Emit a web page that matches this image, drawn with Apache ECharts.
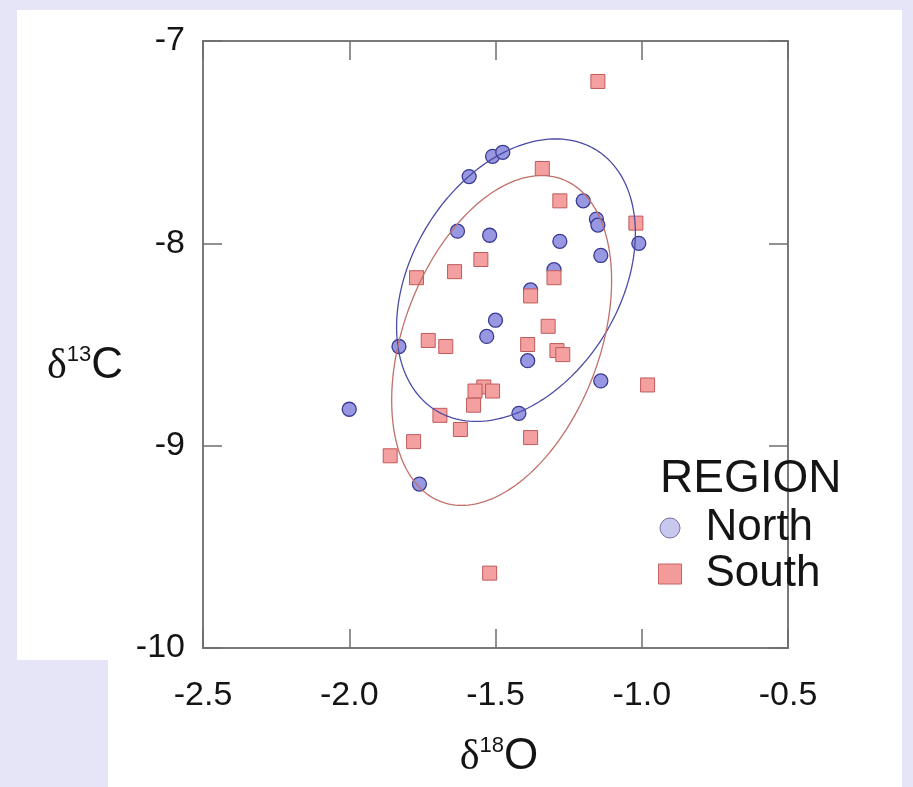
<!DOCTYPE html>
<html>
<head>
<meta charset="utf-8">
<script src="https://cdn.jsdelivr.net/npm/echarts@6/dist/echarts.min.js"></script>
<style>
  html, body { margin: 0; padding: 0; width: 913px; height: 787px; overflow: hidden; background: #e5e5f7; }
  #panel { position: absolute; left: 17px; top: 10px; width: 885px; height: 777px; background: #ffffff; }
  #corner { position: absolute; left: 0; top: 660px; width: 108px; height: 127px; background: #e5e5f7; }
  #chart { position: absolute; left: 0; top: 0; width: 913px; height: 787px; }
</style>
</head>
<body>
<div id="panel"></div>
<div id="corner"></div>
<div id="chart"></div>
<script>
// ---- data ----
const northO18 = [-2.00, -1.83, -1.76, -1.59, -1.51, -1.475, -1.63, -1.52, -1.50, -1.53,
                  -1.28, -1.30, -1.38, -1.39, -1.42, -1.20, -1.155, -1.15, -1.14, -1.01, -1.14];
const northC13 = [-8.82, -8.51, -9.19, -7.67, -7.57, -7.55, -7.94, -7.96, -8.38, -8.46,
                  -7.99, -8.13, -8.23, -8.58, -8.84, -7.79, -7.88, -7.91, -8.06, -8.00, -8.68];

const southO18 = [-1.15, -1.34, -1.28, -1.02, -1.77, -1.64, -1.55, -1.30, -1.38, -1.32,
                  -1.73, -1.67, -1.39, -1.29, -1.27, -1.54, -1.57, -1.51, -1.575, -0.98,
                  -1.69, -1.62, -1.78, -1.38, -1.86, -1.52];
const southC13 = [-7.20, -7.63, -7.79, -7.90, -8.17, -8.14, -8.08, -8.17, -8.26, -8.41,
                  -8.48, -8.51, -8.50, -8.53, -8.55, -8.71, -8.73, -8.73, -8.80, -8.70,
                  -8.85, -8.92, -8.98, -8.96, -9.05, -9.63];

// ellipse: centre and two conjugate semi-axes (data units)
const northEllipseCenter = [-1.430, -8.182];
const northEllipseAxisU  = [0.1356, 0.6981];
const northEllipseAxisV  = [0.3850, 0.0];
const southEllipseCenter = [-1.479, -8.480];
const southEllipseAxisU  = [0.1367, 0.8150];
const southEllipseAxisV  = [0.3502, 0.0];

const xTickValues = [-2.5, -2.0, -1.5, -1.0, -0.5];
const yTickValues = [-10, -9, -8, -7];
const legendTitle = 'REGION';
const groupNames = ['North', 'South'];

// ---- build ----
const FONT = "'Liberation Sans', Arial, Helvetica, sans-serif";
const TXT = '#141414';
const zip = (a, b) => a.map((v, i) => [v, b[i]]);

function ellipseSeries(center, u, v, color) {
  return {
    type: 'custom',
    silent: true,
    z: 5,
    clip: true,
    data: [[center[0], center[1], u[0], u[1], v[0], v[1]]],
    encode: { x: 0, y: 1 },
    renderItem: function (params, api) {
      const cx = api.value(0), cy = api.value(1);
      const ux = api.value(2), uy = api.value(3);
      const vx = api.value(4), vy = api.value(5);
      const pts = [];
      const n = 200;
      for (let i = 0; i <= n; i++) {
        const t = i / n * Math.PI * 2;
        pts.push(api.coord([cx + ux * Math.cos(t) + vx * Math.sin(t),
                            cy + uy * Math.cos(t) + vy * Math.sin(t)]));
      }
      return { type: 'polyline', shape: { points: pts },
               style: { stroke: color, lineWidth: 1.3, fill: null } };
    }
  };
}

const chart = echarts.init(document.getElementById('chart'), null, { renderer: 'canvas' });
const tickStyle = { color: '#6e6e6e', width: 1.5 };
const titleRich = {
  d: { fontSize: 42, fontFamily: "'Liberation Serif', 'Times New Roman', serif", fill: TXT, verticalAlign: 'bottom', lineHeight: 44 },
  s: { fontSize: 22, fontFamily: FONT, fill: TXT, verticalAlign: 'top', lineHeight: 26 },
  o: { fontSize: 44, fontFamily: FONT, fill: TXT, verticalAlign: 'bottom', lineHeight: 44 }
};
const option = {
  animation: false,
  backgroundColor: 'transparent',
  textStyle: { fontFamily: FONT },
  title: {
    text: legendTitle, left: 660, top: 456, padding: 0,
    textStyle: { fontSize: 46, fontWeight: 'normal', color: TXT, fontFamily: FONT }
  },
  legend: {
    orient: 'vertical', left: 658, top: 506, padding: 0,
    itemWidth: 23, itemHeight: 20, itemGap: 2,
    textStyle: { fontSize: 44, color: TXT, fontFamily: FONT, padding: [0, 0, 0, 19] },
    data: [
      { name: groupNames[0], icon: 'circle',
        itemStyle: { color: '#c8c8ef', borderColor: '#7272a8', borderWidth: 1 } },
      { name: groupNames[1], icon: 'rect',
        itemStyle: { color: '#f39a9a', borderColor: '#c46464', borderWidth: 1 } }
    ]
  },
  grid: { left: 203, right: 125, top: 41, bottom: 139, show: true,
          borderColor: '#7a7a7a', borderWidth: 2, backgroundColor: 'transparent' },
  xAxis: [
    { type: 'value', position: 'bottom', min: xTickValues[0], max: xTickValues[xTickValues.length - 1],
      interval: 0.5,
      axisLine: { show: false }, splitLine: { show: false },
      axisTick: { inside: true, length: 19, lineStyle: tickStyle },
      axisLabel: { margin: 31, fontSize: 34, color: TXT, fontFamily: FONT,
                   formatter: v => v.toFixed(1) } },
    { type: 'value', position: 'top', min: xTickValues[0], max: xTickValues[xTickValues.length - 1],
      interval: 0.5,
      axisLine: { show: false }, splitLine: { show: false },
      axisTick: { inside: true, length: 19, lineStyle: tickStyle },
      axisLabel: { show: false } }
  ],
  yAxis: [
    { type: 'value', position: 'left', min: yTickValues[0], max: yTickValues[yTickValues.length - 1],
      interval: 1,
      axisLine: { show: false }, splitLine: { show: false },
      axisTick: { inside: true, length: 19, lineStyle: tickStyle },
      axisLabel: { margin: 18, fontSize: 34, color: TXT, fontFamily: FONT,
                   formatter: v => String(v) } },
    { type: 'value', position: 'right', min: yTickValues[0], max: yTickValues[yTickValues.length - 1],
      interval: 1,
      axisLine: { show: false }, splitLine: { show: false },
      axisTick: { inside: true, length: 19, lineStyle: tickStyle },
      axisLabel: { show: false } }
  ],
  graphic: [
    { type: 'text', x: 499, y: 757, z: 10,
      style: { text: '{d|δ}{s|18}{o|O}', align: 'center', verticalAlign: 'middle', rich: titleRich } },
    { type: 'text', x: 85, y: 366, z: 10,
      style: { text: '{d|δ}{s|13}{o|C}', align: 'center', verticalAlign: 'middle', rich: titleRich } }
  ],
  series: [
    { name: groupNames[0], type: 'scatter', symbol: 'circle', symbolSize: 14, z: 3,
      itemStyle: { color: '#9898e2', borderColor: '#3a3a92', borderWidth: 1.3, opacity: 1 },
      data: zip(northO18, northC13) },
    { name: groupNames[1], type: 'scatter', symbol: 'rect', symbolSize: 14, z: 4,
      itemStyle: { color: '#f4a0a0', borderColor: '#c05a5a', borderWidth: 1, opacity: 1 },
      data: zip(southO18, southC13) },
    ellipseSeries(northEllipseCenter, northEllipseAxisU, northEllipseAxisV, '#4b4ba6'),
    ellipseSeries(southEllipseCenter, southEllipseAxisU, southEllipseAxisV, '#c0706a')
  ]
};
chart.setOption(option);
</script>
</body>
</html>
